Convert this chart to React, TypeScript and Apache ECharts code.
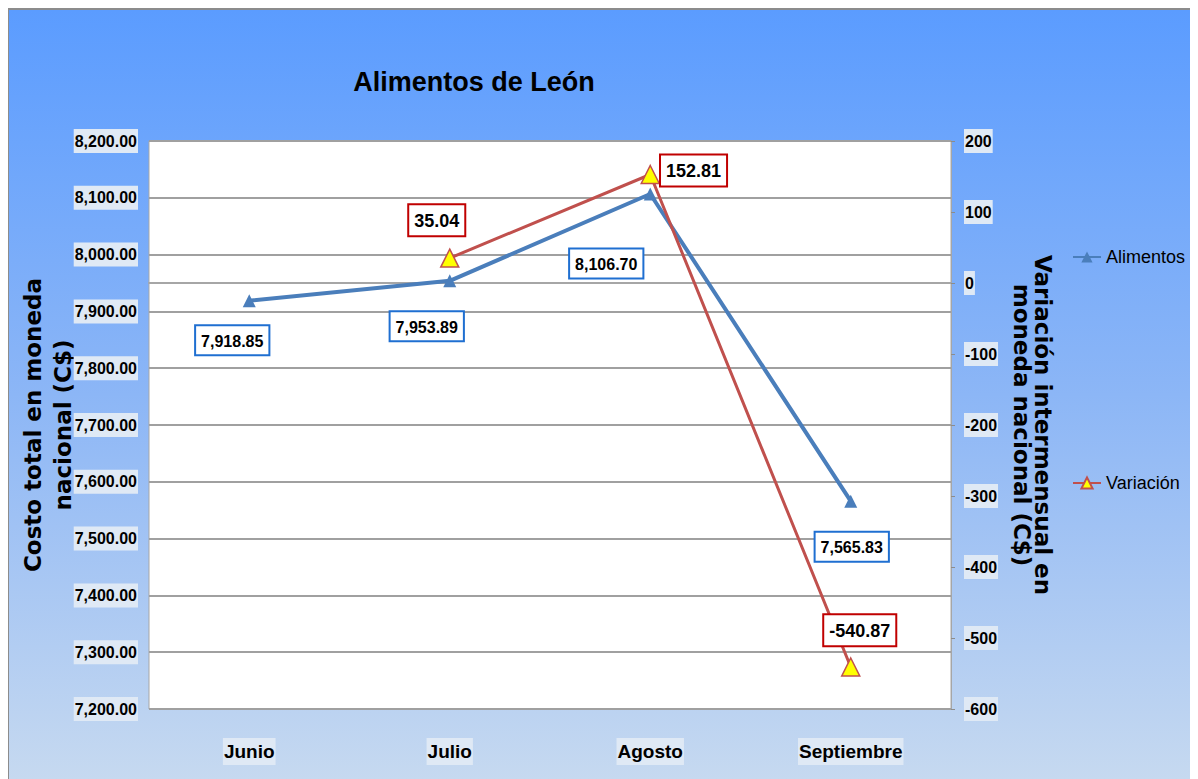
import React, { useEffect, useRef } from "react";
import * as echarts from "echarts";

const title = "Alimentos de León";
const categories = ["Junio", "Julio", "Agosto", "Septiembre"];
const alimentos = [7918.85, 7953.89, 8106.7, 7565.83];
const variacion: (number | null)[] = [null, 35.04, 152.81, -540.87];
const leftName = "Costo total en moneda\nnacional (C$)";
const rightName = "Variación intermensual en\nmoneda nacional (C$)";

const NARROW = "'Liberation Sans Narrow', 'Arial Narrow', 'Liberation Sans', Arial, sans-serif";
const WIDE = "'DejaVu Sans', 'Verdana', sans-serif";

const fmt2 = (v: number) =>
  v.toLocaleString("en-US", { minimumFractionDigits: 2, maximumFractionDigits: 2 });

const alimLabelOffsets = [
  [-17, 14],
  [-23, 20],
  [-44, 44],
  [1, 20],
];
const varLabelOffsets = [
  [0, 0],
  [-13, -8],
  [-4, -4],
  [9, -7],
];
const varLabelPos = ["top", "top", "right", "top"];

export default function App() {
  const ref = useRef<HTMLDivElement>(null);
  useEffect(() => {
    if (!ref.current) return;
    const chart = echarts.init(ref.current, null, { renderer: "svg" });
    const tickLabelBg = "#dfe9f5";
    chart.setOption({
      animation: false,
      backgroundColor: {
        type: "linear",
        x: 0,
        y: 0,
        x2: 0,
        y2: 1,
        colorStops: [
          { offset: 0, color: "#5b9cff" },
          { offset: 0.5, color: "#8cb6f6" },
          { offset: 1, color: "#c6d9f0" },
        ],
      },
      title: {
        text: title,
        left: 460,
        top: 53,
        textAlign: "center",
        textStyle: { fontFamily: NARROW, fontWeight: "bold", fontSize: 27, color: "#000" },
      },
      grid: {
        left: 140,
        top: 131,
        width: 802,
        height: 568,
        outerBoundsMode: "none",
        containLabel: false,
        show: true,
        backgroundColor: "#ffffff",
        borderColor: "#a6a6a6",
        borderWidth: 1,
      },
      legend: [
        {
          orient: "vertical",
          left: 1058,
          top: 233,
          data: ["Alimentos"],
          itemWidth: 28,
          itemHeight: 14,
          itemGap: 4,
          textStyle: { fontFamily: NARROW, fontSize: 18, color: "#000" },
        },
        {
          orient: "vertical",
          left: 1058,
          top: 459,
          data: ["Variación"],
          itemWidth: 28,
          itemHeight: 14,
          itemGap: 4,
          textStyle: { fontFamily: NARROW, fontSize: 18, color: "#000" },
        },
      ],
      xAxis: {
        type: "category",
        data: categories,
        boundaryGap: true,
        axisLine: { show: true, lineStyle: { color: "#a6a6a6", width: 2 } },
        axisTick: { show: false },
        axisLabel: {
          margin: 29,
          fontFamily: NARROW,
          fontWeight: "bold",
          fontSize: 19,
          color: "#000",
          backgroundColor: tickLabelBg,
          padding: [4, 1],
        },
      },
      yAxis: [
        {
          type: "value",
          min: 7200,
          max: 8200,
          interval: 100,
          position: "left",
          name: leftName,
          nameLocation: "middle",
          nameRotate: 90,
          nameGap: 71,
          nameMoveOverlap: false,
          nameTextStyle: {
            fontFamily: WIDE,
            fontWeight: "bold",
            fontSize: 23,
            color: "#000",
            lineHeight: 30,
          },
          axisLine: { show: false },
          axisTick: { show: false },
          splitLine: { show: true, lineStyle: { color: "#a0a0a0", width: 2 } },
          axisLabel: {
            margin: 11,
            formatter: (v: number) => fmt2(v),
            fontFamily: NARROW,
            fontWeight: "bold",
            fontSize: 16,
            color: "#000",
            backgroundColor: tickLabelBg,
            padding: [4, 1],
          },
        },
        {
          type: "value",
          min: -600,
          max: 200,
          interval: 100,
          position: "right",
          name: rightName,
          nameLocation: "middle",
          nameRotate: -90,
          nameGap: 60,
          nameMoveOverlap: false,
          nameTextStyle: {
            fontFamily: WIDE,
            fontWeight: "bold",
            fontSize: 23,
            color: "#000",
            lineHeight: 21,
          },
          axisLine: { show: true, lineStyle: { color: "#a6a6a6", width: 1 } },
          axisTick: { show: true, length: 4, inside: false, lineStyle: { color: "#8c8c8c" } },
          splitLine: { show: false },
          axisLabel: {
            margin: 13,
            fontFamily: NARROW,
            fontWeight: "bold",
            fontSize: 16,
            color: "#000",
            backgroundColor: tickLabelBg,
            padding: [4, 1],
          },
        },
      ],
      series: [
        {
          name: "Alimentos",
          type: "line",
          yAxisIndex: 0,
          data: alimentos.map((v, i) => ({
            value: v,
            label: {
              position: "bottom",
              offset: alimLabelOffsets[i],
            },
          })),
          symbol: "triangle",
          symbolSize: 13,
          itemStyle: { color: "#4a7ebb" },
          lineStyle: { color: "#4a7ebb", width: 4 },
          z: 2,
          label: {
            show: true,
            formatter: (p: any) => fmt2(p.value),
            fontFamily: NARROW,
            fontWeight: "bold",
            fontSize: 16,
            color: "#000",
            backgroundColor: "#ffffff",
            borderColor: "#1f6fd1",
            borderWidth: 2,
            padding: [7, 5, 5, 5],
          },
        },
        {
          name: "Variación",
          type: "line",
          yAxisIndex: 1,
          data: variacion.map((v, i) => ({
            value: v,
            label: {
              position: varLabelPos[i],
              offset: varLabelOffsets[i],
            },
          })),
          symbol: "triangle",
          symbolSize: 18,
          itemStyle: { color: "#ffff00", borderColor: "#c0504d", borderWidth: 1.5 },
          lineStyle: { color: "#c0504d", width: 3 },
          z: 3,
          label: {
            show: true,
            formatter: (p: any) => fmt2(p.value),
            fontFamily: NARROW,
            fontWeight: "bold",
            fontSize: 18,
            color: "#000",
            backgroundColor: "#ffffff",
            borderColor: "#c00000",
            borderWidth: 2,
            padding: [7, 5, 5, 5],
          },
        },
      ],
    });
    return () => chart.dispose();
  }, []);
  return (
    <div
      ref={ref}
      style={{
        width: 1190,
        height: 771,
        borderTop: "2px solid #8c8c8c",
        borderLeft: "1px solid #8c8c8c",
        boxSizing: "border-box",
      }}
    />
  );
}
